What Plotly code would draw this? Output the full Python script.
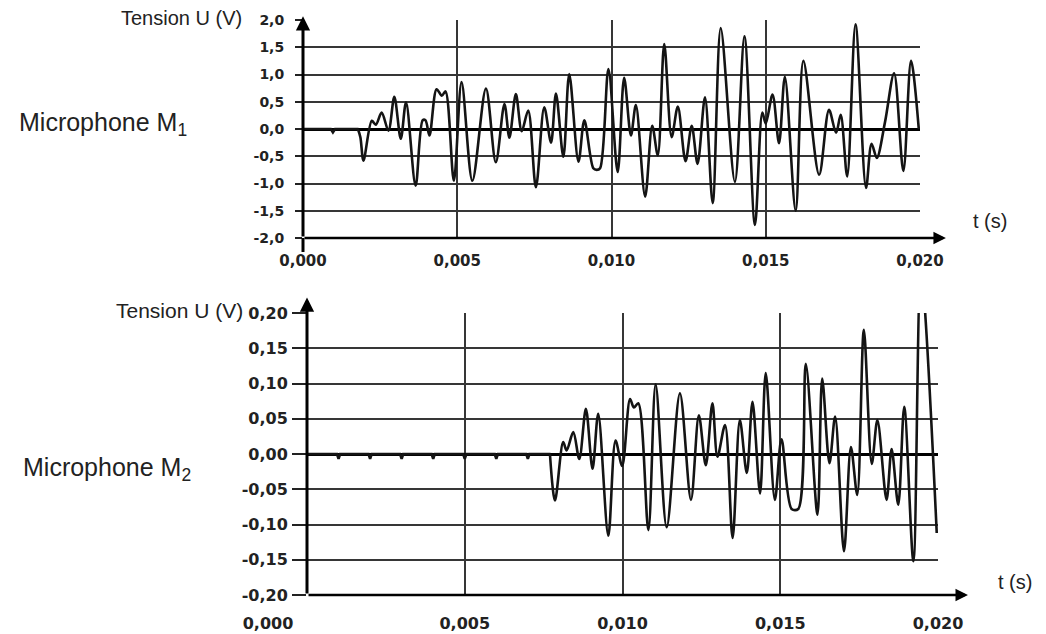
import plotly.graph_objects as go

# ---------------- data ----------------
# Microphone M1 : flat start with one small blip (time in ms, voltage in V)
t1_base_ms = [0.0, 0.90, 0.97, 1.04, 1.80]
u1_base = [0, 0, -0.06, 0, 0]
# Microphone M1 : oscillating part
t1_ms = [1.78, 1.86, 1.96, 2.23, 2.36, 2.55, 2.77, 2.96, 3.17, 3.34,
         3.65, 3.88, 3.97, 4.10, 4.33, 4.50, 4.62, 4.89, 5.14, 5.49, 5.93, 6.25, 6.53, 6.69,
         6.90, 7.09, 7.30, 7.55, 7.82, 8.04, 8.20, 8.44, 8.63, 8.93, 9.12, 9.41, 9.52, 9.63,
         9.90, 10.20, 10.41, 10.63, 10.79, 11.09, 11.32, 11.50, 11.71, 11.95, 12.15, 12.40,
         12.60, 12.79, 13.03, 13.28, 13.54, 14.00, 14.31, 14.65, 14.89, 15.00, 15.22, 15.43,
         15.62, 15.97, 16.22, 16.73, 17.05, 17.28, 17.43, 17.64, 17.91, 18.25, 18.43, 18.60,
         18.87, 19.16, 19.46, 19.71, 19.96]
u1 = [0, -0.15, -0.58, 0.15, 0.08, 0.30, -0.03, 0.59, -0.18, 0.49,
      -1.04, 0.16, 0.16, -0.12, 0.73, 0.61, 0.69, -0.95, 0.86, -0.95, 0.74, -0.61, 0.46, -0.16,
      0.64, -0.04, 0.34, -1.07, 0.40, -0.25, 0.65, -0.51, 1.01, -0.60, 0.16, -0.72, -0.75, -0.72,
      1.10, -0.79, 0.94, -0.12, 0.44, -1.24, 0.06, -0.48, 1.56, -0.15, 0.41, -0.59,
      0.06, -0.64, 0.58, -1.36, 1.85, -0.97, 1.70, -1.76, 0.30, 0.10, 0.63, -0.26,
      0.96, -1.50, 1.25, -0.84, 0.35, -0.07, 0.26, -0.87, 1.92, -1.08, -0.27, -0.53,
      0.14, 1.02, -0.77, 1.25, 0.0]

# Microphone M2 : flat start with small blips every millisecond
t2_base_ms = [0.0, 0.95, 1.0, 1.05, 1.95, 2.0, 2.05, 2.95, 3.0, 3.05, 3.95, 4.0, 4.05,
              4.95, 5.0, 5.05, 5.95, 6.0, 6.05, 6.95, 7.0, 7.05, 7.72]
u2_base = [0, 0, -0.007, 0, 0, -0.007, 0, 0, -0.007, 0, 0, -0.007, 0,
           0, -0.007, 0, 0, -0.007, 0, 0, -0.007, 0, 0]
# Microphone M2 : oscillating part
t2_ms = [7.70, 7.86, 8.12, 8.23, 8.44, 8.63, 8.84, 9.05, 9.23, 9.55, 9.78, 9.99, 10.24, 10.36,
         10.50, 10.82, 11.05, 11.40, 11.82, 12.17, 12.42, 12.64, 12.85, 13.01, 13.25, 13.49,
         13.72, 13.94, 14.12, 14.36, 14.54, 14.83, 15.04, 15.36, 15.57, 15.81, 16.18, 16.33,
         16.56, 16.74, 17.02, 17.24, 17.44, 17.65, 17.90, 18.08, 18.37, 18.53, 18.74, 18.93,
         19.22, 19.46, 19.96]
u2 = [0.0, -0.066, 0.017, 0.005, 0.031, -0.007, 0.064, -0.021, 0.057, -0.116, 0.019, -0.017, 0.078, 0.066,
      0.072, -0.108, 0.099, -0.104, 0.086, -0.065, 0.055, -0.016, 0.072, -0.004, 0.041, -0.119,
      0.048, -0.027, 0.074, -0.056, 0.115, -0.065, 0.021, -0.078, -0.078, 0.128, -0.086, 0.107,
      -0.013, 0.053, -0.138, 0.010, -0.058, 0.176, -0.014, 0.048, -0.065, 0.007, -0.072, 0.067,
      -0.152, 0.26, -0.112]

x_ticks = [0.0, 0.005, 0.010, 0.015, 0.020]
x_labels_1 = ["0,000", "0,005", "0,010", "0,015", "0,020"]
x_labels_2 = ["0,000" + "\u00a0" * 14, "0,005", "0,010", "0,015", "0,020"]
y1_ticks = [-2.0, -1.5, -1.0, -0.5, 0.0, 0.5, 1.0, 1.5, 2.0]
y1_labels = ["-2,0", "-1,5", "-1,0", "-0,5", "0,0", "0,5", "1,0", "1,5", "2,0"]
y2_ticks = [-0.20, -0.15, -0.10, -0.05, 0.0, 0.05, 0.10, 0.15, 0.20]
y2_labels = ["-0,20", "-0,15", "-0,10", "-0,05", "0,00", "0,05", "0,10", "0,15", "0,20"]

# ---------------- layout helpers ----------------
W, H = 1046, 634          # body margin is removed in the page (post_script)
def px(X):
    return X / W
def py(Y):
    return 1 - Y / H

INK = "#141414"
GRID = "#363636"
TXT = "#222222"

fig = go.Figure()
for xs, ys, shape, xa, ya in [
    (t1_base_ms, u1_base, "linear", "x", "y"),
    (t1_ms, u1, "spline", "x", "y"),
    (t2_base_ms, u2_base, "linear", "x2", "y2"),
    (t2_ms, u2, "spline", "x2", "y2"),
]:
    line = dict(color=INK, width=2.6, shape=shape)
    if shape == "spline":
        line["smoothing"] = 0.9
    fig.add_trace(go.Scatter(x=[t / 1000 for t in xs], y=ys, mode="lines", line=line,
                             xaxis=xa, yaxis=ya, showlegend=False, hoverinfo="skip"))

tickfont_small = dict(family="DejaVu Sans", size=14, color=TXT, weight="bold")
tickfont_x1 = dict(family="DejaVu Sans", size=15, color=TXT, weight="bold")
tickfont_big = dict(family="DejaVu Sans", size=16, color=TXT, weight="bold")

fig.update_layout(
    width=W, height=H, margin=dict(l=0, r=0, t=0, b=0, pad=0, autoexpand=False),
    paper_bgcolor="white", plot_bgcolor="white", showlegend=False,
    xaxis=dict(domain=[px(303), px(920)], range=[0, 0.020], anchor="y", automargin=False,
               tickmode="array", tickvals=x_ticks, ticktext=x_labels_1,
               showgrid=True, gridcolor=GRID, gridwidth=1.5, zeroline=False, showline=False,
               ticks="", tickfont=tickfont_x1, ticklabelstandoff=12),
    yaxis=dict(domain=[py(238), py(20)], range=[-2.0, 2.0], anchor="x", automargin=False,
               tickmode="array", tickvals=y1_ticks, ticktext=y1_labels,
               showgrid=True, gridcolor=GRID, gridwidth=2, zeroline=True,
               zerolinecolor="#000", zerolinewidth=3, showline=False,
               ticks="outside", ticklen=7, tickwidth=1.5, tickcolor=TXT,
               tickfont=tickfont_small, ticklabelstandoff=8),
    xaxis2=dict(domain=[px(307), px(938)], range=[0, 0.020], anchor="y2", automargin=False,
                tickmode="array", tickvals=x_ticks, ticktext=x_labels_2,
                showgrid=True, gridcolor=GRID, gridwidth=1.5, zeroline=False, showline=False,
                ticks="", tickfont=tickfont_big, ticklabelstandoff=17),
    yaxis2=dict(domain=[py(595), py(313)], range=[-0.20, 0.20], anchor="x2", automargin=False,
                tickmode="array", tickvals=y2_ticks, ticktext=y2_labels,
                showgrid=True, gridcolor=GRID, gridwidth=2, zeroline=True,
                zerolinecolor="#000", zerolinewidth=3, showline=False,
                ticks="outside", ticklen=14, tickwidth=1.5, tickcolor=TXT,
                tickfont=tickfont_big, ticklabelstandoff=1),
)

# short extension of the top vertical axis below the time axis
fig.add_shape(type="line", xref="paper", yref="paper", x0=px(303), x1=px(303),
              y0=py(238), y1=py(252), line=dict(color="#000", width=3))

arrows = [
    dict(x=0, y=2.07, ax=0, ay=-2.0, xref="x", yref="y", axref="x", ayref="y",
         arrowwidth=3, arrowsize=0.95),
    dict(x=0.02084, y=-2.0, ax=0, ay=-2.0, xref="x", yref="y", axref="x", ayref="y",
         arrowwidth=2.5, arrowsize=1.0),
    dict(x=0, y=0.222, ax=0, ay=-0.20, xref="x2", yref="y2", axref="x2", ayref="y2",
         arrowwidth=3, arrowsize=0.95),
    dict(x=0.02095, y=-0.20, ax=0, ay=-0.20, xref="x2", yref="y2", axref="x2", ayref="y2",
         arrowwidth=2.5, arrowsize=1.0),
]
for a in arrows:
    fig.add_annotation(text="", showarrow=True, arrowhead=2, arrowcolor="#000",
                       standoff=0, startstandoff=0, **a)

labels = [
    dict(text="Tension U (V)", x=px(244), y=py(18), xanchor="right", size=20),
    dict(text="Microphone M<sub>1</sub>", x=px(17), y=py(124), xanchor="left", size=25),
    dict(text="t (s)", x=px(971), y=py(221), xanchor="left", size=20),
    dict(text="Tension U (V)", x=px(245), y=py(310), xanchor="right", size=21),
    dict(text="Microphone M<sub>2</sub>", x=px(21), y=py(469), xanchor="left", size=25),
    dict(text="t (s)", x=px(996), y=py(582), xanchor="left", size=20),
]
for L in labels:
    fig.add_annotation(text=L["text"], x=L["x"], y=L["y"], xref="paper", yref="paper",
                       xanchor=L["xanchor"], yanchor="middle", showarrow=False,
                       font=dict(family="Liberation Sans", size=L["size"], color=TXT))

fig.write_html("out.html", config={"displayModeBar": False},
               post_script="document.body.style.margin='0px';")
